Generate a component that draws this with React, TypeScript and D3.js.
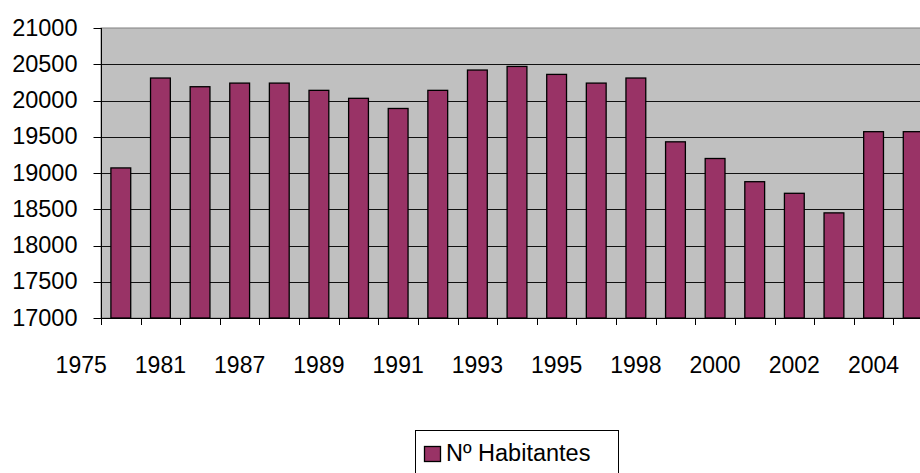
import React, { useEffect, useRef } from "react";
import * as d3 from "d3";

// years shown as categories, one bar each
const years = [
  "1975", "1981", "1986", "1987", "1988", "1989", "1990", "1991", "1992", "1993",
  "1994", "1995", "1996", "1998", "1999", "2000", "2001", "2002", "2003", "2004", "2005",
];
const habitantes = [
  19070, 20310, 20190, 20240, 20240, 20140, 20030, 19890, 20140, 20420,
  20470, 20360, 20240, 20310, 19430, 19200, 18880, 18720, 18450, 19570, 19570,
];
const yTicks = [17000, 17500, 18000, 18500, 19000, 19500, 20000, 20500, 21000];
const seriesName = "Nº Habitantes";

const W = 920;
const H = 473;

const App = () => {
  const ref = useRef<SVGSVGElement>(null);

  useEffect(() => {
    const svg = d3.select(ref.current);
    svg.selectAll("*").remove();

    const m = { top: 28, left: 101, bottom: 318 };
    const plotRight = 933; // plot runs past the picture's right edge
    const font = "Arial, 'Liberation Sans', sans-serif";

    const x = d3.scaleBand().domain(years).range([m.left, plotRight]).paddingInner(0.5).paddingOuter(0.25);
    const step = x.step();
    const y = d3.scaleLinear().domain([17000, 21000]).range([m.bottom, m.top]);

    // plot background
    svg.append("rect")
      .attr("x", m.left).attr("y", m.top)
      .attr("width", plotRight - m.left).attr("height", m.bottom - m.top)
      .attr("fill", "#c0c0c0")
      .attr("stroke", "#808080")
      .attr("stroke-width", 1);

    // gridlines
    svg.append("g").selectAll("line")
      .data(yTicks.slice(1, -1))
      .enter().append("line")
      .attr("x1", m.left).attr("x2", plotRight)
      .attr("y1", d => Math.round(y(d)) + 0.5).attr("y2", d => Math.round(y(d)) + 0.5)
      .attr("stroke", "#111").attr("stroke-width", 1);

    // bars
    svg.append("g").selectAll("rect")
      .data(habitantes)
      .enter().append("rect")
      .attr("x", (d, i) => x(years[i])!)
      .attr("y", d => y(d))
      .attr("width", x.bandwidth())
      .attr("height", d => m.bottom - y(d))
      .attr("fill", "#993366")
      .attr("stroke", "#000")
      .attr("stroke-width", 1.3);

    // y axis
    const yAxis = svg.append("g").attr("transform", `translate(${m.left + 0.5},0)`);
    yAxis.append("line").attr("y1", m.top).attr("y2", m.bottom + 7).attr("stroke", "#000");
    yAxis.selectAll("line.tick")
      .data(yTicks)
      .enter().append("line").attr("class", "tick")
      .attr("x1", -8).attr("x2", 0)
      .attr("y1", d => Math.round(y(d)) + 0.5).attr("y2", d => Math.round(y(d)) + 0.5)
      .attr("stroke", "#000");
    yAxis.selectAll("text")
      .data(yTicks)
      .enter().append("text")
      .attr("x", -24).attr("y", d => y(d) + 7.5)
      .attr("text-anchor", "end")
      .attr("font-family", font).attr("font-size", 23.5)
      .attr("fill", "#000")
      .text(d => d);

    // x axis
    const xAxis = svg.append("g");
    xAxis.append("line")
      .attr("x1", m.left).attr("x2", plotRight)
      .attr("y1", m.bottom + 0.5).attr("y2", m.bottom + 0.5)
      .attr("stroke", "#000");
    const bounds = d3.range(years.length + 1).map(i => m.left + i * step);
    xAxis.selectAll("line.tick")
      .data(bounds)
      .enter().append("line").attr("class", "tick")
      .attr("x1", d => Math.round(d) + 0.5).attr("x2", d => Math.round(d) + 0.5)
      .attr("y1", m.bottom).attr("y2", m.bottom + 7)
      .attr("stroke", "#000");
    // every other year labelled; the first label sits one step left, as in the original
    const labelled = years.map((yr, i) => ({ yr, i })).filter(d => d.i === 0 || d.i % 2 === 1);
    xAxis.selectAll("text")
      .data(labelled)
      .enter().append("text")
      .attr("x", d => x(d.yr)! + x.bandwidth() / 2 - (d.i === 0 ? step : 0))
      .attr("y", 373)
      .attr("text-anchor", "middle")
      .attr("font-family", font).attr("font-size", 23)
      .attr("fill", "#000")
      .text(d => d.yr);

    // legend
    const lg = svg.append("g");
    lg.append("rect")
      .attr("x", 415.5).attr("y", 430.5).attr("width", 203).attr("height", 60)
      .attr("fill", "#fff").attr("stroke", "#000");
    lg.append("rect")
      .attr("x", 424.5).attr("y", 446.5).attr("width", 16).attr("height", 15)
      .attr("fill", "#993366").attr("stroke", "#000").attr("stroke-width", 1.3);
    lg.append("text")
      .attr("x", 446).attr("y", 461)
      .attr("font-family", font).attr("font-size", 23.5)
      .attr("fill", "#000")
      .text(seriesName);
  }, []);

  return (
    <svg ref={ref} width={W} height={H}
      style={{ position: "absolute", left: 0, top: 0, background: "#fff" }} />
  );
};

export default App;
